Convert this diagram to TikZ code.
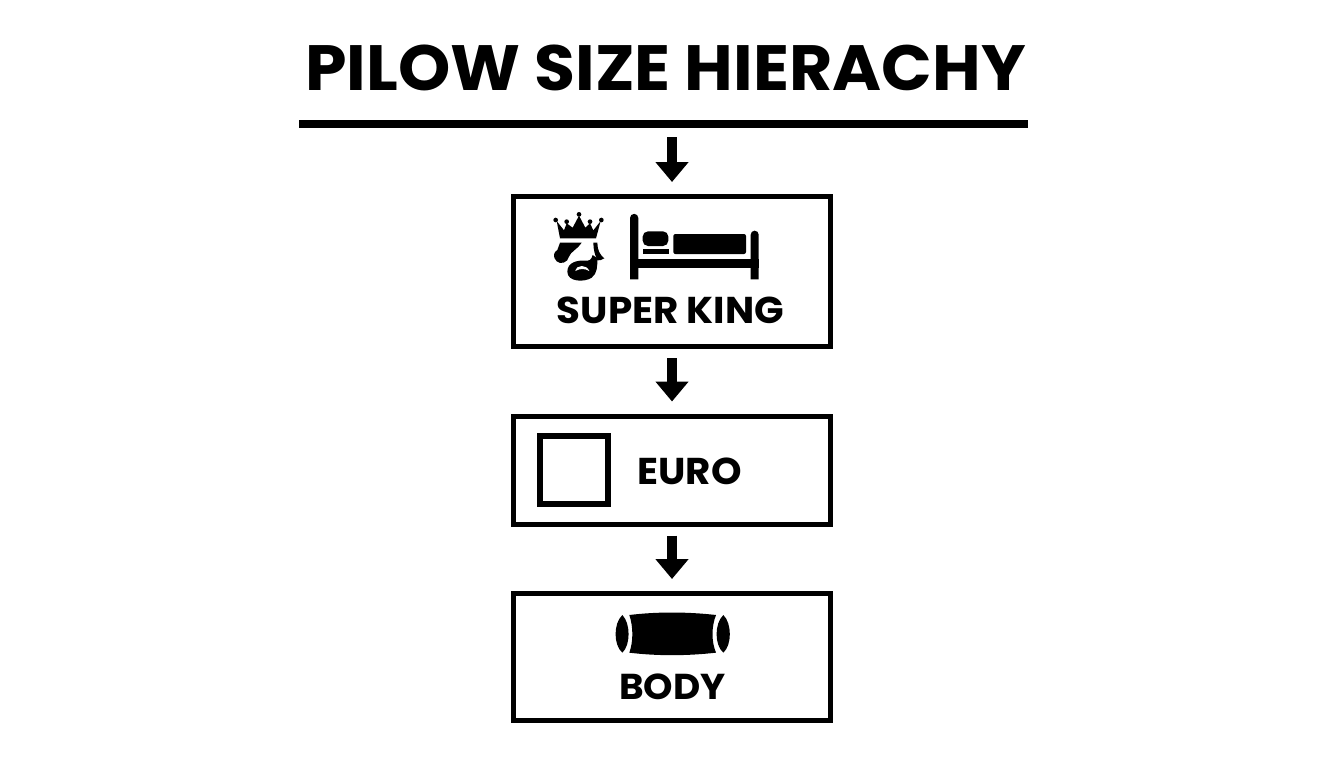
\documentclass[tikz,border=0pt]{standalone}
\usepackage{fontspec}
\setmainfont{Poppins}[BoldFont=* Bold,FakeStretch=1.04]
\usetikzlibrary{arrows.meta}
\tikzset{
  pbox/.style={draw=black,line width=3.75pt,fill=white,inner sep=0pt,minimum width=237.75pt},
  lbl/.style={inner sep=0pt,text=black},
  flow/.style={line width=7.5pt,-{Triangle[length=15pt,width=24pt]},shorten >=9pt,black},
  icon/.style={fill=black,draw=none},
  hole/.style={fill=white,draw=none}
}
\begin{document}
\begin{tikzpicture}[x=0.75pt,y=-0.75pt]
\useasboundingbox[fill=white] (0,0) rectangle (1344,768);
\node[inner sep=0pt,anchor=base,font=\bfseries\fontsize{48pt}{48pt}\selectfont] (title) at (665.5,90.5) {PILOW SIZE HIERACHY};
\node[fill=black,inner sep=0pt,minimum width=546.75pt,minimum height=6pt] (rule) at (663.5,124) {};
\node[pbox,minimum height=112.5pt] (b1) at (672,271.5) {};
\node[pbox,minimum height=81pt] (b2) at (672,470) {};
\node[pbox,minimum height=95.25pt] (b3) at (672,657) {};
\coordinate (a0) at (672,128);
\draw[flow,shorten <=6.75pt] (a0) -- (b1.north);
\draw[flow,shorten <=6.75pt] (b1.south) -- (b2.north);
\draw[flow,shorten <=6.75pt] (b2.south) -- (b3.north);
\node[lbl,anchor=base,font=\bfseries\fontsize{28pt}{28pt}\selectfont] (t1) at (670.5,323) {SUPER KING};
\node[lbl,anchor=base,font=\bfseries\fontsize{28pt}{28pt}\selectfont] (t2) at (689.5,484) {EURO};
\node[lbl,anchor=base,font=\bfseries\fontsize{27pt}{27pt}\selectfont] (t3) at (672.5,699) {BODY};
% euro square
\node[draw=black,line width=4.5pt,inner sep=0pt,minimum size=51pt] (sq) at (574,470) {};
% bed
\begin{scope}[shift={(510,190)},x=0.25pt,y=-0.25pt]
\fill[icon] (360,268) -- (360,84) arc[start angle=180,end angle=360,radius=12.5] -- (385,268) -- cycle;
\fill[icon] (722,268) -- (722,134) arc[start angle=180,end angle=360,radius=12] -- (746,268) -- cycle;
\fill[icon] (360,208) rectangle (746,234);
\fill[icon,rounded corners=4pt] (398,124) rectangle (475,168);
\fill[icon] (400,176) rectangle (476,192);
\fill[icon,rounded corners=1.5pt] (490,192) -- (490,132) -- (708,132) -- (708,192) -- cycle;
\end{scope}
% crown and face
\begin{scope}[shift={(540,205)},x=0.25pt,y=-0.25pt]
\fill[icon] (60,100) -- (50,48) -- (72,76) -- (80,55) -- (98,68) -- (117,32) -- (136,68) -- (150,55) -- (160,76) -- (182,48) -- (168,100) -- cycle;
\foreach \p in {(47,45),(80,50),(117,28),(150,50),(184,45)} \fill[icon] \p circle (7);
\fill[icon] (60,113) -- (125,113) .. controls (110,135) and (92,140) .. (87,155) .. controls (84,172) and (62,180) .. (50,169) .. controls (36,155) and (42,140) .. (52,135) -- cycle;
\fill[icon] (160,113) -- (172,113) .. controls (172,135) and (180,150) .. (193,160) .. controls (185,166) and (178,166) .. (172,166) .. controls (165,150) and (160,135) .. (160,113) -- cycle;
\fill[icon] (82,200) .. controls (82,172) and (112,165) .. (135,167) .. controls (148,168) and (154,165) .. (158,150) -- (172,160) .. controls (172,185) and (172,205) .. (155,218) .. controls (135,232) and (82,232) .. (82,200) -- cycle;
\fill[hole] (106,198) .. controls (110,178) and (140,178) .. (148,198) .. controls (134,190) and (120,190) .. (106,198) -- cycle;
\end{scope}
% bolster
\begin{scope}[shift={(510,530)},x=0.25pt,y=-0.25pt]
\fill[icon] (358,255) .. controls (440,245) and (530,245) .. (618,255) .. controls (604,290) and (604,335) .. (618,368) .. controls (530,378) and (440,378) .. (358,368) .. controls (370,335) and (370,290) .. (358,255) -- cycle;
\fill[icon] (337,255) .. controls (310,280) and (310,345) .. (337,368) .. controls (362,345) and (362,280) .. (337,255) -- cycle;
\fill[icon] (640,255) .. controls (613,280) and (613,345) .. (640,368) .. controls (666,345) and (666,280) .. (640,255) -- cycle;
\end{scope}
\end{tikzpicture}
\end{document}
